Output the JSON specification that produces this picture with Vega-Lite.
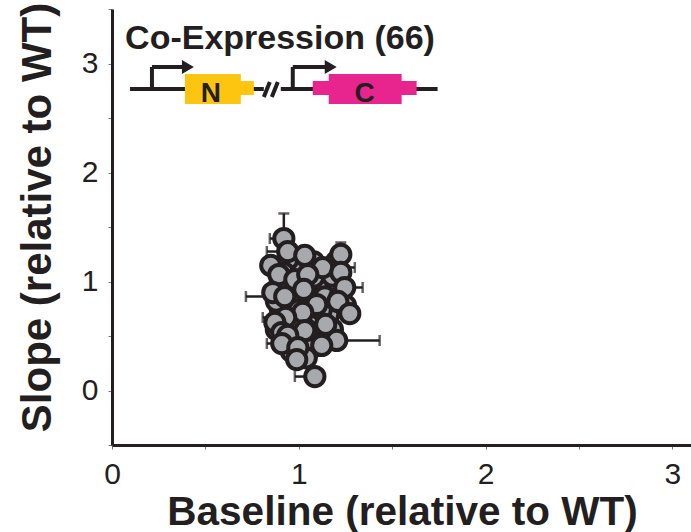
{
  "$schema": "https://vega.github.io/schema/vega-lite/v6.json",
  "width": 579,
  "height": 436,
  "autosize": {"type": "none"},
  "padding": {"left": 112, "top": 9, "right": 0, "bottom": 87},
  "background": "white",
  "config": {
    "view": {"stroke": null},
    "axis": {
      "grid": false,
      "domainColor": "#231F20",
      "domainWidth": 3,
      "tickColor": "#7a7a7a",
      "tickWidth": 1,
      "tickSize": 4,
      "labelFont": "Liberation Sans, sans-serif",
      "labelFontSize": 30,
      "labelColor": "#231F20",
      "labelOverlap": false,
      "labelFlush": false,
      "format": "~g",
      "titleFont": "Liberation Sans, sans-serif",
      "titleFontWeight": "bold",
      "titleFontSize": 40.5,
      "titleColor": "#231F20"
    }
  },
  "datasets": {
    "points": [
      {"x": 0.96, "y": 1.15, "xlo": 0.92, "xhi": 1.0, "ylo": 1.09, "yhi": 1.21},
      {"x": 1.0, "y": 1.1, "xlo": 0.96, "xhi": 1.04, "ylo": 1.04, "yhi": 1.16},
      {"x": 1.08, "y": 1.18, "xlo": 1.04, "xhi": 1.12, "ylo": 1.12, "yhi": 1.24},
      {"x": 1.15, "y": 1.02, "xlo": 1.11, "xhi": 1.19, "ylo": 0.96, "yhi": 1.08},
      {"x": 1.18, "y": 0.95, "xlo": 1.14, "xhi": 1.22, "ylo": 0.89, "yhi": 1.01},
      {"x": 1.1, "y": 0.95, "xlo": 1.06, "xhi": 1.14, "ylo": 0.89, "yhi": 1.01},
      {"x": 0.96, "y": 0.92, "xlo": 0.92, "xhi": 1.0, "ylo": 0.86, "yhi": 0.98},
      {"x": 0.9, "y": 0.98, "xlo": 0.86, "xhi": 0.94, "ylo": 0.92, "yhi": 1.04},
      {"x": 1.06, "y": 0.86, "xlo": 1.02, "xhi": 1.1, "ylo": 0.8, "yhi": 0.92},
      {"x": 1.14, "y": 0.86, "xlo": 1.1, "xhi": 1.18, "ylo": 0.8, "yhi": 0.92},
      {"x": 0.98, "y": 0.8, "xlo": 0.94, "xhi": 1.02, "ylo": 0.74, "yhi": 0.86},
      {"x": 0.9, "y": 0.76, "xlo": 0.86, "xhi": 0.94, "ylo": 0.7, "yhi": 0.82},
      {"x": 1.06, "y": 0.66, "xlo": 1.02, "xhi": 1.1, "ylo": 0.6, "yhi": 0.72},
      {"x": 1.16, "y": 0.7, "xlo": 1.12, "xhi": 1.2, "ylo": 0.64, "yhi": 0.76},
      {"x": 0.98, "y": 0.62, "xlo": 0.94, "xhi": 1.02, "ylo": 0.56, "yhi": 0.68},
      {"x": 1.1, "y": 0.52, "xlo": 1.06, "xhi": 1.14, "ylo": 0.46, "yhi": 0.58},
      {"x": 1.0, "y": 0.46, "xlo": 0.96, "xhi": 1.04, "ylo": 0.4, "yhi": 0.52},
      {"x": 1.06, "y": 0.38, "xlo": 1.02, "xhi": 1.1, "ylo": 0.32, "yhi": 0.44},
      {"x": 1.18, "y": 0.56, "xlo": 1.14, "xhi": 1.22, "ylo": 0.5, "yhi": 0.62},
      {"x": 0.94, "y": 0.72, "xlo": 0.9, "xhi": 0.98, "ylo": 0.66, "yhi": 0.78},
      {"x": 1.22, "y": 0.86, "xlo": 1.18, "xhi": 1.26, "ylo": 0.8, "yhi": 0.92},
      {"x": 1.02, "y": 1.0, "xlo": 0.98, "xhi": 1.06, "ylo": 0.94, "yhi": 1.06},
      {"x": 0.88, "y": 0.82, "xlo": 0.84, "xhi": 0.92, "ylo": 0.76, "yhi": 0.88},
      {"x": 1.12, "y": 0.74, "xlo": 1.08, "xhi": 1.16, "ylo": 0.68, "yhi": 0.8},
      {"x": 1.08, "y": 1.04, "xlo": 1.04, "xhi": 1.12, "ylo": 0.98, "yhi": 1.1},
      {"x": 0.94, "y": 1.2, "xlo": 0.9, "xhi": 0.98, "ylo": 1.14, "yhi": 1.26},
      {"x": 1.2, "y": 1.18, "xlo": 1.16, "xhi": 1.24, "ylo": 1.12, "yhi": 1.24},
      {"x": 1.04, "y": 0.56, "xlo": 1.0, "xhi": 1.08, "ylo": 0.5, "yhi": 0.62},
      {"x": 0.96, "y": 0.36, "xlo": 0.92, "xhi": 1.0, "ylo": 0.3, "yhi": 0.42},
      {"x": 1.15, "y": 0.48, "xlo": 1.11, "xhi": 1.19, "ylo": 0.42, "yhi": 0.54},
      {"x": 1.25, "y": 0.78, "xlo": 1.21, "xhi": 1.29, "ylo": 0.72, "yhi": 0.84},
      {"x": 0.88, "y": 0.56, "xlo": 0.84, "xhi": 0.92, "ylo": 0.5, "yhi": 0.62},
      {"x": 1.0, "y": 0.74, "xlo": 0.96, "xhi": 1.04, "ylo": 0.68, "yhi": 0.8},
      {"x": 1.18, "y": 1.05, "xlo": 1.14, "xhi": 1.22, "ylo": 0.99, "yhi": 1.11},
      {"x": 0.92, "y": 1.08, "xlo": 0.88, "xhi": 0.96, "ylo": 1.02, "yhi": 1.14},
      {"x": 1.04, "y": 0.3, "xlo": 1.0, "xhi": 1.08, "ylo": 0.24, "yhi": 0.36},
      {"x": 0.92, "y": 1.394, "xlo": 0.845, "xhi": 0.96, "ylo": 1.33, "yhi": 1.624},
      {"x": 0.941, "y": 1.275, "xlo": 0.829, "xhi": 0.98, "ylo": 1.21, "yhi": 1.33},
      {"x": 1.032, "y": 1.239, "xlo": 0.99, "xhi": 1.07, "ylo": 1.18, "yhi": 1.3},
      {"x": 1.225, "y": 1.248, "xlo": 1.18, "xhi": 1.26, "ylo": 1.19, "yhi": 1.358},
      {"x": 0.85, "y": 1.147, "xlo": 0.81, "xhi": 0.89, "ylo": 1.09, "yhi": 1.2},
      {"x": 1.128, "y": 1.128, "xlo": 1.09, "xhi": 1.3, "ylo": 1.07, "yhi": 1.19},
      {"x": 1.225, "y": 1.083, "xlo": 1.18, "xhi": 1.26, "ylo": 1.02, "yhi": 1.14},
      {"x": 0.893, "y": 1.064, "xlo": 0.85, "xhi": 0.93, "ylo": 1.0, "yhi": 1.12},
      {"x": 0.979, "y": 1.018, "xlo": 0.94, "xhi": 1.02, "ylo": 0.96, "yhi": 1.08},
      {"x": 1.048, "y": 1.064, "xlo": 1.01, "xhi": 1.09, "ylo": 1.0, "yhi": 1.12},
      {"x": 1.027, "y": 0.927, "xlo": 0.99, "xhi": 1.07, "ylo": 0.87, "yhi": 0.99},
      {"x": 1.246, "y": 0.945, "xlo": 1.2, "xhi": 1.342, "ylo": 0.89, "yhi": 1.0},
      {"x": 0.861, "y": 0.899, "xlo": 0.82, "xhi": 0.9, "ylo": 0.84, "yhi": 0.96},
      {"x": 0.925, "y": 0.862, "xlo": 0.717, "xhi": 0.96, "ylo": 0.8, "yhi": 0.92},
      {"x": 1.209, "y": 0.817, "xlo": 1.17, "xhi": 1.25, "ylo": 0.76, "yhi": 0.88},
      {"x": 1.096, "y": 0.789, "xlo": 1.06, "xhi": 1.14, "ylo": 0.73, "yhi": 0.85},
      {"x": 1.021, "y": 0.716, "xlo": 0.98, "xhi": 1.06, "ylo": 0.66, "yhi": 0.78},
      {"x": 1.273, "y": 0.706, "xlo": 1.23, "xhi": 1.31, "ylo": 0.65, "yhi": 0.77},
      {"x": 0.93, "y": 0.67, "xlo": 0.807, "xhi": 0.97, "ylo": 0.61, "yhi": 0.73},
      {"x": 0.872, "y": 0.624, "xlo": 0.83, "xhi": 0.91, "ylo": 0.56, "yhi": 0.68},
      {"x": 1.144, "y": 0.606, "xlo": 1.1, "xhi": 1.18, "ylo": 0.55, "yhi": 0.66},
      {"x": 1.032, "y": 0.55, "xlo": 0.99, "xhi": 1.07, "ylo": 0.49, "yhi": 0.61},
      {"x": 0.909, "y": 0.532, "xlo": 0.87, "xhi": 0.95, "ylo": 0.47, "yhi": 0.59},
      {"x": 0.941, "y": 0.505, "xlo": 0.9, "xhi": 0.98, "ylo": 0.45, "yhi": 0.56},
      {"x": 1.203, "y": 0.459, "xlo": 1.16, "xhi": 1.433, "ylo": 0.4, "yhi": 0.52},
      {"x": 1.123, "y": 0.413, "xlo": 1.08, "xhi": 1.16, "ylo": 0.35, "yhi": 0.47},
      {"x": 0.909, "y": 0.431, "xlo": 0.829, "xhi": 0.95, "ylo": 0.37, "yhi": 0.49},
      {"x": 0.995, "y": 0.394, "xlo": 0.95, "xhi": 1.04, "ylo": 0.33, "yhi": 0.45},
      {"x": 0.989, "y": 0.284, "xlo": 0.95, "xhi": 1.03, "ylo": 0.22, "yhi": 0.34},
      {"x": 1.086, "y": 0.128, "xlo": 0.979, "xhi": 1.12, "ylo": 0.07, "yhi": 0.19}
    ],
    "segments": [
      {"x": 0.0963, "x2": 0.8128, "y": 2.766, "y2": 2.766},
      {"x": 0.9037, "x2": 1.7433, "y": 2.766, "y2": 2.766},
      {"x": 0.8128, "x2": 0.8449, "y": 2.693, "y2": 2.83},
      {"x": 0.8556, "x2": 0.8877, "y": 2.693, "y2": 2.83},
      {"x": 0.2139, "x2": 0.2139, "y": 2.766, "y2": 2.968},
      {"x": 0.2139, "x2": 0.385, "y": 2.968, "y2": 2.968},
      {"x": 0.9679, "x2": 0.9679, "y": 2.766, "y2": 2.968},
      {"x": 0.9679, "x2": 1.1497, "y": 2.968, "y2": 2.968}
    ],
    "boxes": [
      {"part": "N", "x": 0.6738, "x2": 0.7594, "y": 2.711, "y2": 2.839},
      {"part": "N", "x": 0.3904, "x2": 0.6898, "y": 2.628, "y2": 2.904},
      {"part": "C", "x": 1.0749, "x2": 1.631, "y": 2.711, "y2": 2.839},
      {"part": "C", "x": 1.1604, "x2": 1.5508, "y": 2.628, "y2": 2.904}
    ],
    "arrows": [
      {"x": 0.4064, "y": 2.968},
      {"x": 1.171, "y": 2.968}
    ],
    "genes": [
      {"label": "N", "x": 0.529, "y": 2.647},
      {"label": "C", "x": 1.353, "y": 2.647}
    ],
    "heading": [
      {"label": "Co-Expression (66)", "x": 0.07, "y": 3.137}
    ]
  },
  "layer": [
    {
      "mark": {"type": "rule", "color": "#BDBEC0", "strokeWidth": 2},
      "encoding": {"x": {"datum": 1, "type": "quantitative", "title": "Baseline (relative to WT)"}}
    },
    {
      "mark": {"type": "rule", "color": "#BDBEC0", "strokeWidth": 2},
      "encoding": {"y": {"datum": 1, "type": "quantitative", "title": "Slope (relative to WT)"}}
    },
    {
      "data": {"name": "points"},
      "mark": {"type": "errorbar", "ticks": {"size": 11, "thickness": 2.5, "color": "#231F20"}, "rule": {"strokeWidth": 2.5, "color": "#231F20"}, "color": "#231F20"},
      "encoding": {
        "x": {"field": "xlo", "type": "quantitative", "title": "Baseline (relative to WT)"},
        "x2": {"field": "xhi"},
        "y": {"field": "y", "type": "quantitative", "title": "Slope (relative to WT)"}
      }
    },
    {
      "data": {"name": "points"},
      "mark": {"type": "errorbar", "ticks": {"size": 11, "thickness": 2.5, "color": "#231F20"}, "rule": {"strokeWidth": 2.5, "color": "#231F20"}, "color": "#231F20"},
      "encoding": {
        "x": {"field": "x", "type": "quantitative", "title": "Baseline (relative to WT)"},
        "y": {"field": "ylo", "type": "quantitative", "title": "Slope (relative to WT)"},
        "y2": {"field": "yhi"}
      }
    },
    {
      "data": {"name": "points"},
      "mark": {"type": "point", "shape": "circle", "filled": true, "fill": "#A7A9AC", "stroke": "#231F20", "strokeWidth": 4, "size": 370, "opacity": 1},
      "encoding": {
        "x": {
          "field": "x", "type": "quantitative",
          "title": "Baseline (relative to WT)",
          "scale": {"domain": [0, 3.1], "nice": false, "zero": false},
          "axis": {
            "values": [0, 0.5, 1, 1.5, 2, 2.5, 3],
            "labelExpr": "datum.value % 1 === 0 ? datum.label : ''",
            "labelPadding": 10,
            "titleX": 290,
            "titleY": 79,
            "titleBaseline": "alphabetic"
          }
        },
        "y": {
          "field": "y", "type": "quantitative",
          "title": "Slope (relative to WT)",
          "scale": {"domain": [-0.5, 3.5], "nice": false, "zero": false},
          "axis": {
            "values": [-0.5, 0, 0.5, 1, 1.5, 2, 2.5, 3, 3.5],
            "labelExpr": "datum.value % 1 === 0 ? datum.label : ''",
            "labelPadding": 10,
            "titleFontSize": 42,
            "titleX": -62,
            "titleY": 208,
            "titleAngle": -90,
            "titleBaseline": "alphabetic"
          }
        }
      }
    },
    {
      "mark": {"type": "rule", "color": "#231F20", "strokeWidth": 3},
      "encoding": {"y": {"datum": 3.5, "type": "quantitative", "title": "Slope (relative to WT)"}}
    },
    {
      "data": {"name": "segments"},
      "mark": {"type": "rule", "color": "#231F20", "strokeWidth": 4},
      "encoding": {
        "x": {"field": "x", "type": "quantitative", "title": "Baseline (relative to WT)"},
        "x2": {"field": "x2"},
        "y": {"field": "y", "type": "quantitative", "title": "Slope (relative to WT)"},
        "y2": {"field": "y2"}
      }
    },
    {
      "data": {"name": "arrows"},
      "mark": {"type": "point", "shape": "triangle-right", "filled": true, "color": "#231F20", "size": 190, "opacity": 1},
      "encoding": {
        "x": {"field": "x", "type": "quantitative", "title": "Baseline (relative to WT)"},
        "y": {"field": "y", "type": "quantitative", "title": "Slope (relative to WT)"}
      }
    },
    {
      "data": {"name": "boxes"},
      "mark": {"type": "rect"},
      "encoding": {
        "x": {"field": "x", "type": "quantitative", "title": "Baseline (relative to WT)"},
        "x2": {"field": "x2"},
        "y": {"field": "y", "type": "quantitative", "title": "Slope (relative to WT)"},
        "y2": {"field": "y2"},
        "color": {"field": "part", "type": "nominal", "scale": {"domain": ["N", "C"], "range": ["#FDC50F", "#E8258E"]}, "legend": null}
      }
    },
    {
      "data": {"name": "genes"},
      "mark": {"type": "text", "font": "Liberation Sans, sans-serif", "fontWeight": "bold", "fontSize": 28, "color": "#231F20", "align": "center", "baseline": "alphabetic"},
      "encoding": {
        "x": {"field": "x", "type": "quantitative", "title": "Baseline (relative to WT)"},
        "y": {"field": "y", "type": "quantitative", "title": "Slope (relative to WT)"},
        "text": {"field": "label"}
      }
    },
    {
      "data": {"name": "heading"},
      "mark": {"type": "text", "font": "Liberation Sans, sans-serif", "fontWeight": "bold", "fontSize": 34, "color": "#231F20", "align": "left", "baseline": "alphabetic"},
      "encoding": {
        "x": {"field": "x", "type": "quantitative", "title": "Baseline (relative to WT)"},
        "y": {"field": "y", "type": "quantitative", "title": "Slope (relative to WT)"},
        "text": {"field": "label"}
      }
    }
  ]
}
